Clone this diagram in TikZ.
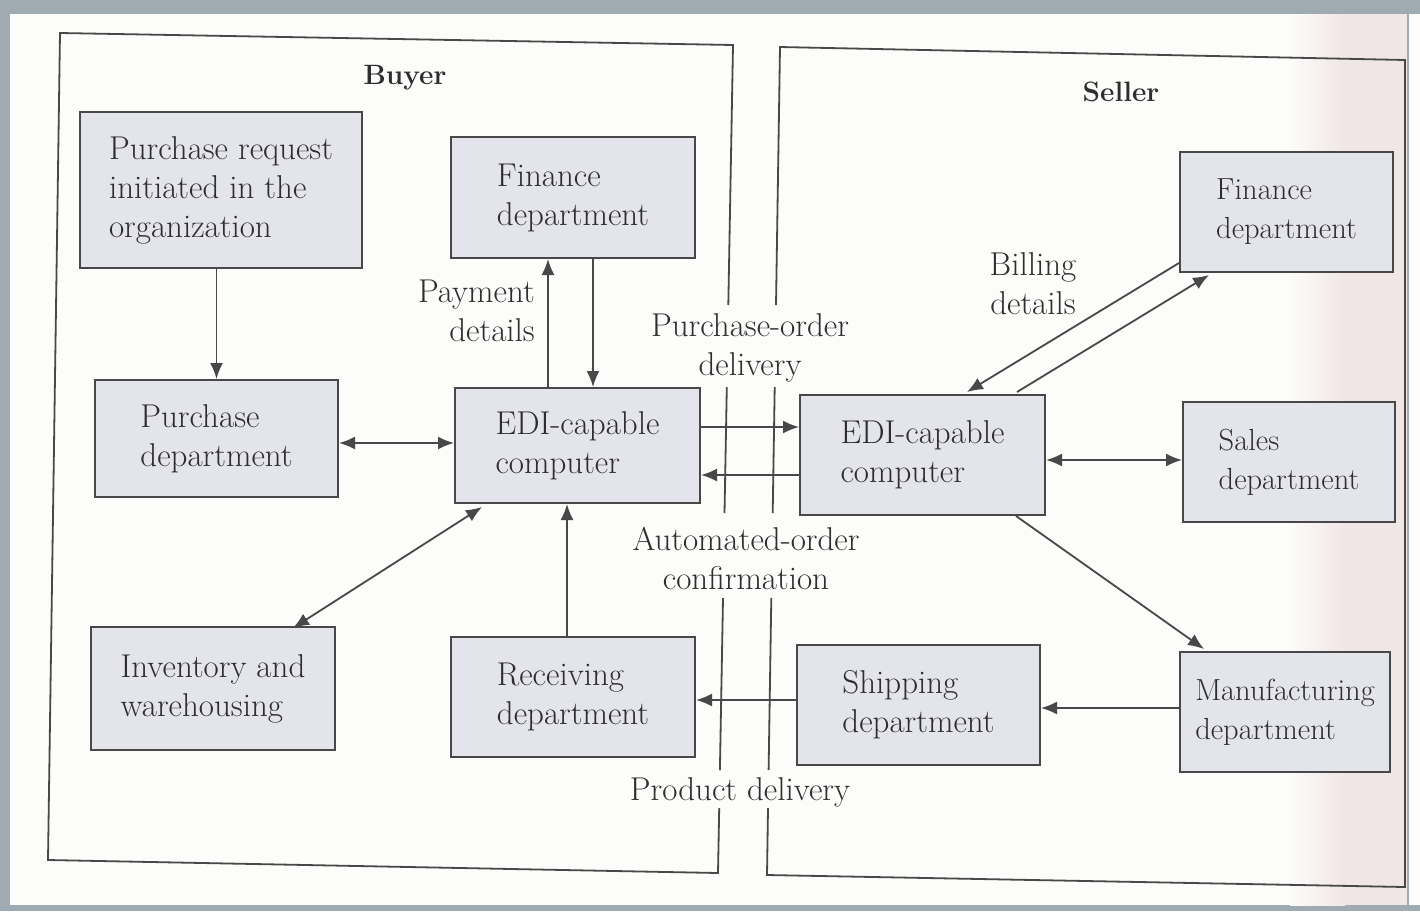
\documentclass[tikz,border=0pt]{standalone}
\usetikzlibrary{arrows.meta}
\definecolor{edge}{HTML}{A0AAB1}
\definecolor{paper}{HTML}{FCFCFB}
\definecolor{tint}{HTML}{F1E6E6}
\definecolor{ink}{HTML}{484848}
\definecolor{txt}{HTML}{2E2E2E}
\definecolor{boxfill}{HTML}{E4E4EC}
\begin{document}
\begin{tikzpicture}[x=1pt,y=-1pt,
  font=\fontsize{33}{39}\selectfont, text=txt,
  box/.style={draw=ink, line width=2pt, fill=boxfill, align=left, inner sep=0pt},
  narrowbox/.style={box, font=\fontsize{30.5}{39}\selectfont},
  lbl/.style={inner sep=0pt},
  ttl/.style={inner sep=0pt, font=\fontsize{28}{30}\selectfont\bfseries},
  frm/.style={draw=ink, line width=1.8pt},
  arr/.style={draw=ink, line width=1.8pt, -{Latex[length=16pt,width=13pt]}},
  darr/.style={draw=ink, line width=1.8pt, {Latex[length=16pt,width=13pt]}-{Latex[length=16pt,width=13pt]}}]
\useasboundingbox (0,0) rectangle (1420,911);
% paper and surrounding background
\fill[edge] (0,0) rectangle (1420,911);
\fill[paper] (10,14) rectangle (1420,905);
\shade[left color=paper, right color=tint] (1290,14) rectangle (1345,905);
\fill[tint] (1345,14) rectangle (1407,905);
\draw[edge, line width=1.5pt] (1408,14) -- (1408,905);

% enclosing frames with gaps for the exchange labels
\draw[frm] (728.3,305) -- (733,45) -- (60,33) -- (48,860) -- (718,873) -- (719.2,808);
\draw[frm] (726.8,387) -- (724.5,513);
\draw[frm] (723,598) -- (719.9,770);
\draw[frm] (776,305) -- (780,47) -- (1405,60) -- (1405,887) -- (767,875) -- (768,808);
\draw[frm] (774.7,387) -- (772.7,513);
\draw[frm] (771.3,598) -- (768.6,770);

\node[ttl] (buyer) at (405,78) {Buyer};
\node[ttl] (seller) at (1121,92) {Seller};

% buyer side
\node[box, minimum width=282pt, minimum height=156pt] (preq) at (221,190) {Purchase request\\initiated in the\\organization};
\node[box, minimum width=244pt, minimum height=121pt] (finB) at (573,197.5) {Finance\\department};
\node[box, minimum width=243pt, minimum height=117pt] (pdept) at (216.5,438.5) {Purchase\\department};
\node[box, minimum width=245pt, minimum height=115pt] (ediB) at (577.5,445.5) {EDI-capable\\computer};
\node[box, minimum width=244pt, minimum height=123pt] (inv) at (213,688.5) {Inventory and\\warehousing};
\node[box, minimum width=244pt, minimum height=120pt] (recv) at (573,697) {Receiving\\department};

% seller side
\node[box, minimum width=245pt, minimum height=120pt] (ediS) at (922.5,455) {EDI-capable\\computer};
\node[narrowbox, minimum width=213pt, minimum height=120pt] (finS) at (1286.5,212) {Finance\\department};
\node[narrowbox, minimum width=212pt, minimum height=120pt] (sales) at (1289,462) {Sales\\department};
\node[box, minimum width=243pt, minimum height=120pt] (ship) at (918.5,705) {Shipping\\department};
\node[narrowbox, minimum width=210pt, minimum height=120pt] (mfg) at (1285,712) {Manufacturing\\department};

% labels
\node[lbl, align=right, anchor=east] (pay) at (535,311) {Payment\\details};
\node[lbl, align=center] (po) at (750,348) {Purchase-order\\delivery};
\node[lbl, align=center] (conf) at (746,558) {Automated-order\\confirmation};
\node[lbl] (prod) at (740,792) {Product delivery};
\node[lbl, align=center] (bill) at (1033,284) {Billing\\details};

% buyer connectors
\draw[arr] (preq.south -| pdept.north) -- (pdept.north);
\draw[darr] ([yshift=-4.5pt]pdept.east) -- ([yshift=-4.5pt]pdept.east -| ediB.west);
\draw[arr] ([xshift=-29.5pt]ediB.north) -- ([xshift=-29.5pt]ediB.north |- finB.south);
\draw[arr] ([xshift=15.5pt]ediB.north |- finB.south) -- ([xshift=15.5pt]ediB.north);
\draw[darr] ([xshift=28pt,yshift=-3pt]ediB.south west) -- ([xshift=-43pt,yshift=-2pt]inv.north east);
\draw[arr] ([xshift=-6pt]recv.north) -- ([xshift=-6pt]recv.north |- ediB.south);

% exchange between the two EDI computers
\draw[arr] ([yshift=18.5pt]ediB.east) -- ([yshift=18.5pt]ediB.east -| ediS.west);
\draw[arr] ([yshift=-29.5pt]ediB.east -| ediS.west) -- ([yshift=-29.5pt]ediB.east);
\draw[arr] ([yshift=5pt]ship.west) -- ([yshift=5pt]ship.west -| recv.east);

% seller connectors
\draw[arr] ([yshift=10pt]finS.south west) -- ([xshift=168pt,yshift=2pt]ediS.north west);
\draw[arr] ([xshift=218pt,yshift=2pt]ediS.north west) -- ([xshift=30pt,yshift=-2pt]finS.south west);
\draw[darr] ([yshift=-5pt]ediS.east) -- ([yshift=-5pt]ediS.east -| sales.west);
\draw[arr] ([xshift=-30pt]ediS.south east) -- ([xshift=25pt,yshift=2pt]mfg.north west);
\draw[arr] ([yshift=4pt]mfg.west) -- ([yshift=4pt]mfg.west -| ship.east);
\end{tikzpicture}
\end{document}
